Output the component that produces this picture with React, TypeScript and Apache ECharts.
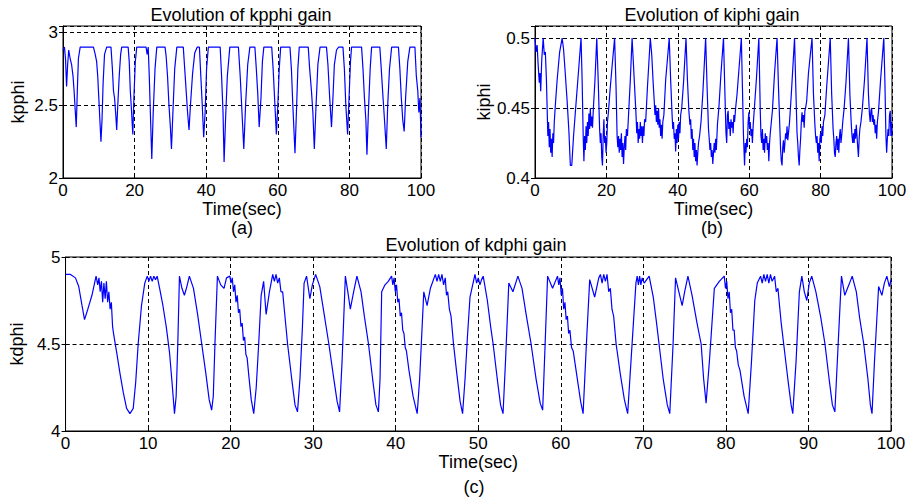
import React, { useEffect, useRef } from 'react';
import * as echarts from 'echarts';

// (a) kpphi gain: [time (s), value]
const kpphiData: [number, number][] = [
  [0, 2.88], [0.4, 2.9], [0.7, 2.82], [1.0, 2.63], [1.3, 2.78], [1.6, 2.88], [2.0, 2.82], [2.4, 2.78], [2.8, 2.7],
  [3.1, 2.6], [3.4, 2.47], [3.7, 2.35], [4.0, 2.6], [4.3, 2.82], [4.8, 2.9], [8.5, 2.9], [9.0, 2.85], [9.4, 2.8],
  [9.7, 2.7], [10.0, 2.55], [10.3, 2.4], [10.6, 2.25], [10.9, 2.4], [11.2, 2.65], [11.6, 2.85], [12.2, 2.9],
  [13.4, 2.9], [13.8, 2.75], [14.1, 2.6], [14.4, 2.55], [14.7, 2.45], [15.0, 2.33], [15.3, 2.5], [15.7, 2.7],
  [16.1, 2.85], [16.4, 2.9], [18.2, 2.9], [18.5, 2.8], [18.8, 2.6], [19.1, 2.48], [19.5, 2.3], [19.8, 2.55],
  [20.2, 2.8], [20.6, 2.9], [23.2, 2.9], [23.5, 2.85], [23.8, 2.9], [24.1, 2.7], [24.4, 2.45], [24.8, 2.13],
  [25.2, 2.45], [25.7, 2.75], [26.2, 2.9], [28.5, 2.9], [28.8, 2.84], [29.2, 2.7], [29.6, 2.5], [30.0, 2.35],
  [30.3, 2.2], [30.7, 2.45], [31.2, 2.75], [31.8, 2.9], [33.6, 2.9], [34.0, 2.75], [34.4, 2.6], [34.8, 2.45],
  [35.2, 2.33], [35.6, 2.5], [36.2, 2.72], [36.8, 2.86], [37.5, 2.9], [38.1, 2.9], [38.5, 2.7], [38.9, 2.5],
  [39.3, 2.28], [39.7, 2.45], [40.1, 2.75], [40.6, 2.9], [43.9, 2.9], [44.3, 2.7], [44.7, 2.45], [45.0, 2.11],
  [45.4, 2.4], [45.9, 2.7], [46.6, 2.9], [49.0, 2.9], [49.5, 2.7], [50.0, 2.45], [50.5, 2.2], [51.0, 2.5],
  [51.6, 2.78], [52.2, 2.9], [53.6, 2.9], [54.0, 2.75], [54.4, 2.58], [54.8, 2.35], [55.3, 2.55], [55.7, 2.8],
  [56.1, 2.9], [58.3, 2.9], [58.7, 2.75], [59.1, 2.55], [59.6, 2.3], [60.0, 2.5], [60.4, 2.75], [60.8, 2.9],
  [63.4, 2.9], [63.8, 2.75], [64.2, 2.5], [64.8, 2.17], [65.2, 2.45], [65.6, 2.75], [66.0, 2.9], [68.5, 2.9],
  [68.9, 2.75], [69.4, 2.6], [69.8, 2.45], [70.2, 2.2], [70.6, 2.45], [71.2, 2.78], [71.8, 2.9], [73.6, 2.9],
  [74.0, 2.78], [74.5, 2.55], [75.0, 2.35], [75.4, 2.55], [75.8, 2.78], [76.4, 2.88], [77.0, 2.9], [78.2, 2.9],
  [78.6, 2.75], [79.0, 2.5], [79.5, 2.3], [79.9, 2.55], [80.3, 2.8], [80.6, 2.9], [83.4, 2.9], [83.8, 2.75],
  [84.2, 2.55], [84.6, 2.4], [84.9, 2.16], [85.3, 2.45], [85.8, 2.75], [86.2, 2.9], [88.5, 2.9], [88.9, 2.75],
  [89.4, 2.55], [89.8, 2.4], [90.3, 2.2], [90.7, 2.5], [91.2, 2.75], [91.8, 2.9], [93.7, 2.9], [94.1, 2.75],
  [94.5, 2.55], [94.9, 2.4], [95.3, 2.32], [95.7, 2.55], [96.3, 2.8], [96.9, 2.9], [98.3, 2.9], [98.7, 2.7],
  [99.1, 2.6], [99.4, 2.45], [99.7, 2.55], [100, 2.28],
];

// (b) kiphi gain
const kiphiData: [number, number][] = [
  [0, 0.5], [0.3, 0.49], [0.6, 0.495], [0.9, 0.48], [1.2, 0.468], [1.4, 0.475], [1.6, 0.462], [1.9, 0.485], [2.3, 0.5],
  [2.6, 0.488], [2.9, 0.49], [3.2, 0.47],
  [3.4, 0.45], [3.6, 0.43], [3.8, 0.44], [4.0, 0.422], [4.2, 0.435], [4.4, 0.418], [4.6, 0.428], [4.8, 0.415],
  [5.0, 0.432], [5.2, 0.425], [5.4, 0.44], [5.7, 0.452], [6.2, 0.47], [6.9, 0.49], [7.6, 0.5],
  [8.0, 0.492], [8.5, 0.474], [9.0, 0.455], [9.5, 0.433], [9.9, 0.409], [10.3, 0.409], [10.8, 0.43], [11.3, 0.447],
  [12.0, 0.47], [12.9, 0.5],
  [13.2, 0.47], [13.5, 0.43], [13.7, 0.412], [13.9, 0.43], [14.1, 0.42], [14.3, 0.437], [14.5, 0.425], [14.7, 0.44],
  [14.9, 0.43], [15.1, 0.446], [15.3, 0.435], [15.5, 0.45], [15.7, 0.437], [15.9, 0.444], [16.1, 0.436],
  [16.4, 0.452], [16.8, 0.47], [17.3, 0.5],
  [17.7, 0.47], [18.1, 0.435], [18.3, 0.425], [18.5, 0.432], [18.7, 0.415], [18.9, 0.409], [19.1, 0.43],
  [19.3, 0.442], [19.5, 0.425], [19.7, 0.43], [19.9, 0.418], [20.1, 0.425], [20.3, 0.44], [20.6, 0.448],
  [21.0, 0.462], [21.6, 0.48], [22.3, 0.5],
  [22.7, 0.465], [23.0, 0.43], [23.2, 0.422], [23.4, 0.43], [23.6, 0.418], [23.8, 0.428], [24.0, 0.42],
  [24.2, 0.432], [24.4, 0.415], [24.6, 0.425], [24.8, 0.41], [25.0, 0.422], [25.2, 0.43], [25.4, 0.42],
  [25.6, 0.435], [25.9, 0.43], [26.3, 0.45], [26.7, 0.47], [27.2, 0.5],
  [27.6, 0.48], [28.0, 0.46], [28.3, 0.445], [28.5, 0.432], [28.7, 0.44], [28.9, 0.425], [29.1, 0.435],
  [29.3, 0.428], [29.5, 0.44], [29.7, 0.43], [29.9, 0.437], [30.1, 0.425], [30.3, 0.437], [30.5, 0.43],
  [30.7, 0.442], [31.0, 0.44], [31.5, 0.465], [32.3, 0.5],
  [32.7, 0.488], [33.1, 0.468], [33.4, 0.455], [33.6, 0.445], [33.8, 0.452], [34.0, 0.44], [34.2, 0.448],
  [34.4, 0.438], [34.6, 0.45], [34.8, 0.436], [35.0, 0.442], [35.2, 0.43], [35.4, 0.438], [35.6, 0.428],
  [35.8, 0.44], [36.1, 0.445], [36.6, 0.47], [37.6, 0.5],
  [38.0, 0.47], [38.4, 0.445], [38.6, 0.435], [38.8, 0.44], [39.0, 0.428], [39.2, 0.432], [39.4, 0.419],
  [39.6, 0.435], [39.8, 0.425], [40.0, 0.438], [40.2, 0.428], [40.4, 0.44], [40.6, 0.432], [40.8, 0.445],
  [41.1, 0.45], [41.6, 0.468], [42.3, 0.5],
  [42.7, 0.47], [43.1, 0.448], [43.4, 0.438], [43.6, 0.442], [43.8, 0.428], [44.0, 0.435], [44.2, 0.42],
  [44.4, 0.428], [44.6, 0.415], [44.8, 0.425], [45.0, 0.412], [45.2, 0.42], [45.4, 0.409], [45.6, 0.418],
  [45.8, 0.425], [46.1, 0.43], [46.5, 0.44], [47.0, 0.46], [47.8, 0.5],
  [48.2, 0.465], [48.6, 0.435], [48.8, 0.428], [49.0, 0.42], [49.2, 0.425], [49.4, 0.415], [49.6, 0.42],
  [49.8, 0.41], [50.0, 0.418], [50.2, 0.425], [50.4, 0.418], [50.6, 0.428], [50.8, 0.42], [51.1, 0.438],
  [51.5, 0.45], [52.1, 0.475], [52.8, 0.5],
  [53.2, 0.46], [53.5, 0.432], [53.7, 0.425], [53.9, 0.445], [54.1, 0.448], [54.3, 0.435], [54.5, 0.44],
  [54.7, 0.43], [54.9, 0.442], [55.1, 0.436], [55.3, 0.44], [55.5, 0.432], [55.7, 0.445], [55.9, 0.44],
  [56.2, 0.45], [56.6, 0.46], [57.2, 0.48], [57.8, 0.5],
  [58.1, 0.465], [58.4, 0.43], [58.7, 0.409], [58.9, 0.425], [59.1, 0.418], [59.3, 0.428], [59.5, 0.422],
  [59.7, 0.44], [59.9, 0.447], [60.1, 0.435], [60.3, 0.44], [60.5, 0.43], [60.7, 0.435], [60.9, 0.425],
  [61.1, 0.437], [61.4, 0.448], [62.0, 0.47], [62.7, 0.5],
  [63.1, 0.448], [63.3, 0.43], [63.5, 0.425], [63.7, 0.435], [63.9, 0.42], [64.1, 0.428], [64.3, 0.418],
  [64.5, 0.432], [64.7, 0.425], [64.9, 0.43], [65.1, 0.42], [65.3, 0.425], [65.5, 0.412], [65.7, 0.425],
  [65.9, 0.432], [66.2, 0.44], [66.5, 0.448], [67.1, 0.475], [67.8, 0.5],
  [68.2, 0.465], [68.6, 0.435], [68.8, 0.42], [69.0, 0.412], [69.2, 0.409], [69.4, 0.422], [69.6, 0.427],
  [69.8, 0.418], [70.0, 0.425], [70.2, 0.432], [70.4, 0.428], [70.6, 0.437], [70.8, 0.427], [71.0, 0.432],
  [71.3, 0.44], [71.8, 0.46], [72.7, 0.5],
  [73.1, 0.46], [73.4, 0.432], [73.6, 0.425], [73.8, 0.415], [74.0, 0.409], [74.2, 0.42], [74.4, 0.428],
  [74.6, 0.44], [74.8, 0.447], [75.0, 0.44], [75.2, 0.445], [75.4, 0.436], [75.6, 0.448], [75.8, 0.45],
  [76.1, 0.455], [76.6, 0.475], [77.6, 0.5],
  [78.0, 0.46], [78.4, 0.438], [78.6, 0.43], [78.8, 0.425], [79.0, 0.43], [79.2, 0.418], [79.4, 0.425],
  [79.6, 0.412], [79.8, 0.428], [80.0, 0.432], [80.2, 0.425], [80.4, 0.437], [80.6, 0.43], [80.8, 0.44],
  [81.2, 0.445], [81.7, 0.465], [82.7, 0.5],
  [83.1, 0.46], [83.5, 0.435], [83.7, 0.428], [83.9, 0.418], [84.1, 0.415], [84.3, 0.425], [84.5, 0.43],
  [84.7, 0.42], [84.9, 0.428], [85.1, 0.418], [85.3, 0.43], [85.5, 0.435], [85.7, 0.425], [85.9, 0.43],
  [86.2, 0.44], [86.6, 0.45], [87.1, 0.468], [87.8, 0.5],
  [88.2, 0.46], [88.6, 0.438], [88.8, 0.43], [89.0, 0.425], [89.2, 0.432], [89.4, 0.425], [89.6, 0.435],
  [89.8, 0.428], [90.0, 0.438], [90.2, 0.43], [90.4, 0.422], [90.6, 0.415], [90.8, 0.428], [91.0, 0.435],
  [91.3, 0.44], [91.7, 0.45], [92.3, 0.47], [93.0, 0.5],
  [93.4, 0.46], [93.7, 0.445], [93.9, 0.44], [94.1, 0.448], [94.3, 0.45], [94.5, 0.44], [94.7, 0.445],
  [94.9, 0.438], [95.1, 0.442], [95.3, 0.432], [95.5, 0.438], [95.7, 0.428], [95.9, 0.44], [96.2, 0.447],
  [96.8, 0.47], [97.7, 0.5],
  [98.0, 0.47], [98.3, 0.43], [98.5, 0.418], [98.7, 0.428], [98.9, 0.435], [99.1, 0.43], [99.3, 0.445],
  [99.5, 0.448], [99.7, 0.43], [99.85, 0.44], [100, 0.43],
];

// (c) kdphi gain
const kdphiData: [number, number][] = [
  [0, 4.9], [0.6, 4.9], [1.2, 4.88], [1.6, 4.83], [2.0, 4.72], [2.3, 4.64], [2.7, 4.7], [3.2, 4.78], [3.7, 4.89],
  [3.9, 4.84], [4.05, 4.88], [4.2, 4.8], [4.35, 4.86], [4.5, 4.74], [4.65, 4.85], [4.8, 4.76], [4.95, 4.86],
  [5.1, 4.74], [5.25, 4.8], [5.4, 4.7], [5.55, 4.74], [5.7, 4.6], [5.85, 4.55], [6.2, 4.45], [6.6, 4.33],
  [7.0, 4.22], [7.4, 4.13], [7.8, 4.1], [8.2, 4.13], [8.5, 4.28], [8.8, 4.5], [9.2, 4.72], [9.6, 4.85],
  [9.9, 4.89], [10.1, 4.86], [10.3, 4.89], [10.5, 4.86], [10.7, 4.89], [10.9, 4.87], [11.1, 4.89], [11.4, 4.82],
  [11.8, 4.72], [12.2, 4.6], [12.6, 4.45], [12.9, 4.28], [13.2, 4.1], [13.4, 4.2], [13.6, 4.5], [13.8, 4.89],
  [14.1, 4.82], [14.4, 4.78], [14.7, 4.83], [15.0, 4.89], [15.5, 4.82], [16.0, 4.67], [16.5, 4.5], [17.0, 4.33],
  [17.4, 4.18], [17.7, 4.12], [17.9, 4.2], [18.1, 4.5], [18.4, 4.89], [18.8, 4.84], [19.2, 4.82], [19.5, 4.88],
  [19.9, 4.89], [20.05, 4.85], [20.2, 4.88], [20.35, 4.8], [20.5, 4.84], [20.65, 4.74], [20.8, 4.78],
  [20.95, 4.68], [21.1, 4.7], [21.25, 4.6], [21.4, 4.62], [21.55, 4.52], [21.7, 4.54], [21.85, 4.44],
  [22.0, 4.42], [22.2, 4.32], [22.5, 4.18], [22.8, 4.1], [23.1, 4.25], [23.4, 4.5], [23.7, 4.78], [24.0, 4.86],
  [24.3, 4.67], [24.7, 4.8], [25.1, 4.9], [25.3, 4.86], [25.5, 4.9], [25.7, 4.85], [25.9, 4.88], [26.1, 4.8],
  [26.3, 4.8], [26.5, 4.7], [26.9, 4.5], [27.4, 4.3], [27.8, 4.15], [28.1, 4.11], [28.4, 4.3], [28.7, 4.6],
  [28.9, 4.85], [29.2, 4.89], [29.6, 4.76], [29.9, 4.84], [30.3, 4.9], [30.8, 4.83], [31.3, 4.68], [31.9, 4.5],
  [32.5, 4.3], [32.9, 4.17], [33.2, 4.11], [33.5, 4.4], [33.9, 4.89], [34.2, 4.8], [34.5, 4.7], [34.9, 4.8],
  [35.3, 4.89], [35.8, 4.8], [36.2, 4.66], [36.7, 4.5], [37.2, 4.3], [37.6, 4.15], [37.9, 4.11], [38.1, 4.3],
  [38.3, 4.8], [38.7, 4.84], [39.1, 4.86], [39.5, 4.89], [39.65, 4.84], [39.8, 4.88], [39.95, 4.8],
  [40.1, 4.84], [40.25, 4.74], [40.4, 4.76], [40.55, 4.66], [40.7, 4.68], [40.85, 4.58], [41.0, 4.56],
  [41.15, 4.48], [41.3, 4.46], [41.6, 4.35], [42.1, 4.2], [42.6, 4.1], [42.9, 4.3], [43.2, 4.6], [43.4, 4.8],
  [43.8, 4.72], [44.2, 4.82], [44.8, 4.9], [45.0, 4.86], [45.2, 4.9], [45.4, 4.86], [45.6, 4.9], [45.8, 4.84],
  [46.0, 4.88], [46.15, 4.78], [46.3, 4.8], [46.5, 4.7], [46.7, 4.66], [47.0, 4.5], [47.4, 4.33], [47.8, 4.17],
  [48.1, 4.1], [48.4, 4.3], [48.7, 4.55], [49.0, 4.77], [49.6, 4.9], [49.8, 4.85], [50.0, 4.88], [50.2, 4.84],
  [50.4, 4.87], [50.6, 4.89], [51.1, 4.75], [51.5, 4.6], [51.8, 4.5], [52.3, 4.3], [52.7, 4.15], [53.0, 4.1],
  [53.3, 4.4], [53.7, 4.85], [54.2, 4.8], [54.8, 4.89], [55.3, 4.82], [55.8, 4.67], [56.4, 4.5], [57.0, 4.3],
  [57.5, 4.16], [57.8, 4.12], [58.1, 4.5], [58.4, 4.89], [59.0, 4.82], [59.6, 4.89], [59.75, 4.84],
  [59.9, 4.88], [60.05, 4.78], [60.2, 4.82], [60.35, 4.7], [60.5, 4.74], [60.65, 4.64], [60.8, 4.66],
  [60.95, 4.56], [61.1, 4.58], [61.3, 4.48], [61.5, 4.46], [62.0, 4.3], [62.4, 4.17], [62.7, 4.1], [63.1, 4.5],
  [63.5, 4.87], [64.1, 4.77], [64.6, 4.88], [64.8, 4.9], [65.0, 4.85], [65.2, 4.9], [65.4, 4.86], [65.6, 4.9],
  [65.8, 4.8], [66.0, 4.82], [66.2, 4.7], [66.4, 4.66], [66.7, 4.5], [67.2, 4.33], [67.7, 4.18], [68.1, 4.1],
  [68.5, 4.4], [69.1, 4.85], [69.25, 4.89], [69.4, 4.84], [69.55, 4.89], [69.7, 4.84], [69.85, 4.88],
  [70.1, 4.85], [70.7, 4.89], [71.2, 4.77], [71.6, 4.62], [71.9, 4.5], [72.4, 4.3], [72.9, 4.15], [73.2, 4.1],
  [73.6, 4.5], [73.9, 4.88], [74.3, 4.8], [74.7, 4.72], [75.0, 4.8], [75.4, 4.89], [75.9, 4.78], [76.5, 4.62],
  [77.0, 4.5], [77.3, 4.3], [77.6, 4.16], [78.0, 4.4], [78.6, 4.82], [79.2, 4.86], [79.8, 4.89], [79.95, 4.82],
  [80.1, 4.86], [80.25, 4.76], [80.4, 4.8], [80.55, 4.68], [80.7, 4.7], [80.85, 4.58], [81.0, 4.58],
  [81.15, 4.48], [81.3, 4.46], [81.5, 4.38], [81.7, 4.35], [82.2, 4.2], [82.7, 4.1], [83.1, 4.4], [83.5, 4.75],
  [83.8, 4.85], [84.2, 4.89], [84.4, 4.85], [84.6, 4.9], [84.8, 4.86], [85.0, 4.9], [85.2, 4.85], [85.4, 4.9],
  [85.6, 4.86], [85.9, 4.89], [86.1, 4.8], [86.3, 4.82], [86.5, 4.72], [86.7, 4.62], [87.0, 4.5], [87.5, 4.3],
  [87.9, 4.15], [88.1, 4.1], [88.5, 4.4], [88.9, 4.8], [89.2, 4.89], [89.5, 4.8], [89.8, 4.75], [90.1, 4.85],
  [90.4, 4.89], [90.9, 4.8], [91.5, 4.65], [92.0, 4.5], [92.5, 4.3], [92.9, 4.15], [93.2, 4.11], [93.6, 4.5],
  [94.0, 4.89], [94.4, 4.78], [94.9, 4.84], [95.3, 4.89], [95.8, 4.8], [96.2, 4.65], [96.7, 4.5], [97.2, 4.3],
  [97.5, 4.15], [97.7, 4.1], [98.0, 4.4], [98.5, 4.83], [98.9, 4.78], [99.2, 4.85], [99.5, 4.89], [99.8, 4.83],
  [100, 4.87],
];

const panelTitles = ['Evolution of kpphi gain', 'Evolution of kiphi gain', 'Evolution of kdphi gain'];
const panelTags = ['(a)', '(b)', '(c)'];
const yNames = ['kpphi', 'kiphi', 'kdphi'];
const xName = 'Time(sec)';
const yRanges: [number, number, number][] = [
  [2, 3.045, 0.5],
  [0.4, 0.5086, 0.05],
  [4, 5, 0.5],
];
const xIntervals = [20, 20, 10];

const FONT = '"Liberation Sans", Arial, sans-serif';
const TXT = { color: '#000', fontSize: 17, fontFamily: FONT };
const NAME_TXT = { color: '#000', fontSize: 18, fontFamily: FONT };

const grids = [
  { left: 63, top: 26, width: 358, height: 152 },
  { left: 535, top: 26, width: 357, height: 152 },
  { left: 62, top: 257, width: 829, height: 174 },
];
const tagPos = [
  { x: 242, y: 228 },
  { x: 712, y: 228 },
  { x: 474, y: 487 },
];
const titlePos = [
  { x: 241, y: 15 },
  { x: 712, y: 15 },
  { x: 476, y: 245 },
];

export default function App() {
  const ref = useRef<HTMLDivElement>(null);
  useEffect(() => {
    if (!ref.current) return;
    const chart = echarts.init(ref.current, undefined, { renderer: 'svg' });
    const dash = { color: '#000', type: [4, 3] as any, width: 1 };
    const xAxes: any[] = [];
    const yAxes: any[] = [];
    grids.forEach((_, i) => {
      xAxes.push({
        type: 'value', gridIndex: i, min: 0, max: 100, interval: xIntervals[i], position: 'bottom',
        axisLine: { show: true, onZero: false, lineStyle: { color: '#000' } },
        axisTick: { show: true, inside: true, length: 4, lineStyle: { color: '#000' } },
        axisLabel: { ...TXT, margin: 4 },
        splitLine: { show: true, lineStyle: dash },
        name: xName, nameLocation: 'middle', nameGap: 22, nameTextStyle: NAME_TXT,
      });
      const [mn, mx, iv] = yRanges[i];
      yAxes.push({
        type: 'value', gridIndex: i, min: mn, max: mx, interval: iv, position: 'left',
        axisLine: { show: true, onZero: false, lineStyle: { color: '#000' } },
        axisTick: { show: true, inside: true, length: 4, lineStyle: { color: '#000' } },
        axisLabel: {
          ...TXT, margin: 5,
          formatter: (v: number) => {
            const k = v / iv;
            return Math.abs(k - Math.round(k)) < 1e-6 ? String(Math.round(v * 100) / 100) : '';
          },
        },
        splitLine: { show: true, lineStyle: dash },
        name: yNames[i], nameLocation: 'middle', nameRotate: 90, nameGap: i === 1 ? 38 : 36, nameTextStyle: NAME_TXT,
      });
    });
    grids.forEach((_, i) => {
      xAxes.push({
        type: 'value', gridIndex: i, min: 0, max: 100, interval: xIntervals[i], position: 'top',
        axisLine: { show: false }, axisLabel: { show: false }, splitLine: { show: false },
        axisTick: { show: true, inside: true, length: 4, lineStyle: { color: '#000' } },
      });
      const [mn, mx, iv] = yRanges[i];
      yAxes.push({
        type: 'value', gridIndex: i, min: mn, max: mx, interval: iv, position: 'right',
        axisLine: { show: false }, axisLabel: { show: false }, splitLine: { show: false },
        axisTick: { show: true, inside: true, length: 4, lineStyle: { color: '#000' } },
      });
    });
    const datasets = [kpphiData, kiphiData, kdphiData];
    const graphic: any[] = [];
    panelTitles.forEach((t, i) => {
      graphic.push({
        type: 'text', x: titlePos[i].x, y: titlePos[i].y,
        style: { text: t, fill: '#000', font: `18px ${FONT}`, textAlign: 'center', textVerticalAlign: 'middle', align: 'center', verticalAlign: 'middle' },
      });
      graphic.push({
        type: 'text', x: tagPos[i].x, y: tagPos[i].y,
        style: { text: panelTags[i], fill: '#000', font: `18px ${FONT}`, textAlign: 'center', textVerticalAlign: 'middle', align: 'center', verticalAlign: 'middle' },
      });
    });
    chart.setOption({
      animation: false,
      backgroundColor: '#fff',
      grid: grids.map((g) => ({ ...g, show: true, borderColor: '#000', borderWidth: 1, backgroundColor: '#fff' })),
      xAxis: xAxes,
      yAxis: yAxes,
      series: datasets.map((d, i) => ({
        type: 'line', xAxisIndex: i, yAxisIndex: i, data: d, showSymbol: false, symbol: 'none',
        lineStyle: { color: '#0000ff', width: 1.2 }, clip: true,
      })),
      graphic,
    });
    return () => chart.dispose();
  }, []);
  return <div ref={ref} style={{ position: 'absolute', left: 0, top: 0, width: 910, height: 501 }} />;
}
